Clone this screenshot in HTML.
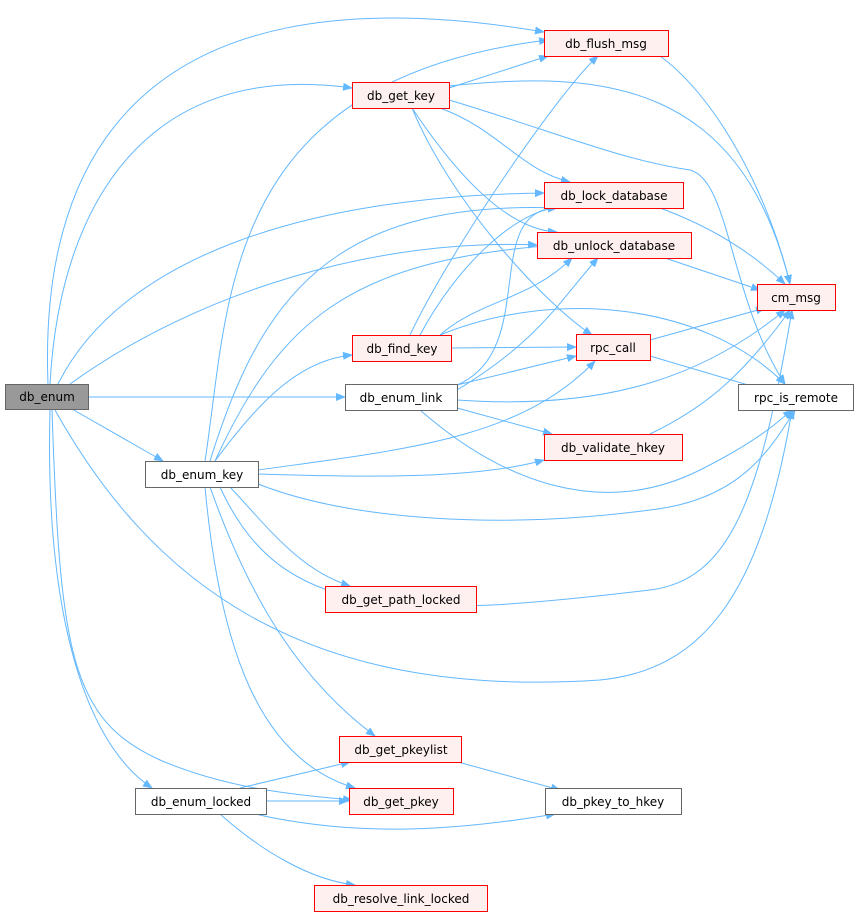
<!DOCTYPE html>
<html><head><meta charset="utf-8"><style>
html,body{margin:0;padding:0;background:#fff;}
svg{display:block;}
text{font-family:"DejaVu Sans","Liberation Sans",sans-serif;font-size:12px;fill:#000;}
.e{fill:none;stroke:#63b8ff;stroke-width:1;}
.r{fill:#fff0f0;stroke:#ff0000;}
.w{fill:#fff;stroke:#666;}
</style></head><body>
<svg width="859" height="921" viewBox="0 0 859 921" xmlns="http://www.w3.org/2000/svg">
<defs><marker id="a" markerWidth="10" markerHeight="8" refX="9" refY="4" orient="auto" markerUnits="userSpaceOnUse"><path d="M0,0 L10,4 L0,8 z" fill="#63b8ff"/></marker></defs>
<g class="e" marker-end="url(#a)">
<path d="M48,384 C40,180 120,-40 544,32"/>
<path d="M50,384 C60,200 150,60 352,88"/>
<path d="M58,384 C120,260 300,196 544,193"/>
<path d="M70,384 C200,290 380,238 537,245"/>
<path d="M88,397 L345,397"/>
<path d="M72,409 L163,461"/>
<path d="M55,410 C150,580 300,700 600,680 C700,670 760,600 792,410"/>
<path d="M50,410 C45,600 80,740 152,788"/>
<path d="M52,410 C60,650 70,720 160,760 C230,790 300,795 352,800"/>
<path d="M449,88 L548,56"/>
<path d="M449,86 C600,70 740,80 790,284"/>
<path d="M449,100 C550,130 620,160 690,170 C730,180 730,300 785,384"/>
<path d="M440,108 C500,130 520,170 570,182"/>
<path d="M412,108 C460,180 510,230 557,232"/>
<path d="M412,108 C450,200 540,300 592,335"/>
<path d="M410,335 C450,250 560,90 598,56"/>
<path d="M420,335 C460,260 520,210 557,208"/>
<path d="M440,335 C480,300 530,300 572,258"/>
<path d="M451,348 L576,347"/>
<path d="M440,335 C550,290 700,300 785,384"/>
<path d="M457,385 C540,350 480,210 557,208"/>
<path d="M457,390 C540,340 560,300 598,258"/>
<path d="M457,385 L576,356"/>
<path d="M457,400 C600,410 700,380 785,310"/>
<path d="M457,408 L552,434"/>
<path d="M420,410 C500,480 600,520 700,470 C760,440 780,420 792,410"/>
<path d="M205,461 C230,300 220,80 548,40"/>
<path d="M210,461 C260,300 330,200 557,208"/>
<path d="M215,461 C280,320 350,260 557,245"/>
<path d="M215,461 C260,400 300,360 352,355"/>
<path d="M258,470 C400,450 520,440 595,361"/>
<path d="M258,474 C380,478 480,478 544,460"/>
<path d="M258,484 C350,520 500,530 650,510 C740,500 770,450 795,410"/>
<path d="M220,487 C280,620 400,620 650,590 C730,580 760,500 792,310"/>
<path d="M230,487 C270,530 300,570 350,586"/>
<path d="M210,487 C250,600 300,680 375,736"/>
<path d="M205,487 C220,650 260,760 355,788"/>
<path d="M660,56 C720,100 770,200 790,284"/>
<path d="M660,208 C720,230 760,260 785,284"/>
<path d="M665,258 L760,290"/>
<path d="M650,340 L765,308"/>
<path d="M650,356 L765,390"/>
<path d="M650,434 C700,410 740,380 790,310"/>
<path d="M458,762 L560,790"/>
<path d="M240,788 L350,762"/>
<path d="M266,801 L348,801"/>
<path d="M255,814 C360,838 460,830 555,814"/>
<path d="M220,814 C260,850 310,880 355,885"/>
</g>
<g>
<rect x="5.5" y="384.5" width="83" height="25" fill="#999" stroke="#666"/><text x="47" y="401" text-anchor="middle">db_enum</text>
<rect class="r" x="544.5" y="30.5" width="124" height="26"/><text x="606" y="48" text-anchor="middle">db_flush_msg</text>
<rect class="r" x="352.5" y="82.5" width="97" height="26"/><text x="401" y="100" text-anchor="middle">db_get_key</text>
<rect class="r" x="544.5" y="182.5" width="139" height="26"/><text x="614" y="200" text-anchor="middle">db_lock_database</text>
<rect class="r" x="537.5" y="232.5" width="154" height="26"/><text x="614" y="250" text-anchor="middle">db_unlock_database</text>
<rect class="r" x="757.5" y="284.5" width="78" height="26"/><text x="796" y="302" text-anchor="middle">cm_msg</text>
<rect class="r" x="352.5" y="335.5" width="99" height="26"/><text x="402" y="353" text-anchor="middle">db_find_key</text>
<rect class="r" x="576.5" y="334.5" width="74" height="26"/><text x="613" y="352" text-anchor="middle">rpc_call</text>
<rect class="w" x="345.5" y="384.5" width="112" height="26"/><text x="401" y="402" text-anchor="middle">db_enum_link</text>
<rect class="w" x="738.5" y="384.5" width="115" height="26"/><text x="796" y="402" text-anchor="middle">rpc_is_remote</text>
<rect class="r" x="544.5" y="434.5" width="138" height="26"/><text x="613" y="452" text-anchor="middle">db_validate_hkey</text>
<rect class="w" x="145.5" y="461.5" width="113" height="26"/><text x="202" y="479" text-anchor="middle">db_enum_key</text>
<rect class="r" x="325.5" y="586.5" width="151" height="26"/><text x="401" y="604" text-anchor="middle">db_get_path_locked</text>
<rect class="r" x="339.5" y="736.5" width="122" height="26"/><text x="401" y="754" text-anchor="middle">db_get_pkeylist</text>
<rect class="w" x="135.5" y="788.5" width="131" height="26"/><text x="201" y="806" text-anchor="middle">db_enum_locked</text>
<rect class="r" x="349.5" y="788.5" width="104" height="26"/><text x="401" y="806" text-anchor="middle">db_get_pkey</text>
<rect class="w" x="545.5" y="788.5" width="136" height="26"/><text x="613" y="806" text-anchor="middle">db_pkey_to_hkey</text>
<rect class="r" x="314.5" y="885.5" width="173" height="26"/><text x="401" y="903" text-anchor="middle">db_resolve_link_locked</text>
</g>
</svg>
</body></html>
